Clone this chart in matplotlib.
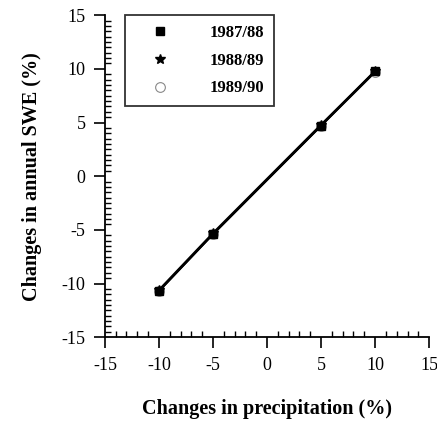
import matplotlib
matplotlib.use("Agg")
import matplotlib.pyplot as plt
from matplotlib.ticker import MultipleLocator

# ---- data ----
precip_change = [-10, -5, 5, 10]
swe_8788 = [-10.7, -5.4, 4.7, 9.8]
swe_8889 = [-10.6, -5.3, 4.8, 9.8]
swe_8990 = [-10.7, -5.4, 4.7, 9.7]
season_labels = ["1987/88", "1988/89", "1989/90"]

plt.rcParams['font.family'] = ['Liberation Serif', 'DejaVu Serif']
plt.rcParams['axes.unicode_minus'] = False

fig = plt.figure(figsize=(4.37, 4.21), dpi=100)
ax = fig.add_axes([0.240, 0.199, 0.742, 0.765])

# 1989/90 : open dotted circle (drawn first, underneath)
ax.plot(precip_change, swe_8990, '-', color='black', lw=1.5,
        marker='o', markersize=7, markerfacecolor='none',
        markeredgecolor='#888888', markeredgewidth=0.8,
        label=season_labels[2], zorder=2)
# 1988/89 : star-like marker
ax.plot(precip_change, swe_8889, '-', color='black', lw=1.5,
        marker='*', markersize=7, markerfacecolor='black',
        markeredgecolor='black', label=season_labels[1], zorder=3)
# 1987/88 : filled square
ax.plot(precip_change, swe_8788, '-', color='black', lw=1.5,
        marker='s', markersize=6, markerfacecolor='black',
        markeredgecolor='black', label=season_labels[0], zorder=4)

ax.set_xlim(-15, 15)
ax.set_ylim(-15, 15)

ax.spines['top'].set_visible(False)
ax.spines['right'].set_visible(False)
for s in ('left', 'bottom'):
    ax.spines[s].set_linewidth(1.3)

ax.xaxis.set_major_locator(MultipleLocator(5))
ax.xaxis.set_minor_locator(MultipleLocator(1))
ax.yaxis.set_major_locator(MultipleLocator(5))
ax.yaxis.set_minor_locator(MultipleLocator(0.5))

ax.tick_params(which='major', direction='out', length=8, width=1.2,
               labelsize=13, pad=6)
ax.tick_params(which='minor', direction='in', length=4, width=1.0)

ax.set_xlabel("Changes in precipitation (%)", fontsize=14.5,
              fontweight='bold', labelpad=18)
ax.set_ylabel("Changes in annual SWE (%)", fontsize=14.5,
              fontweight='bold', labelpad=14)

handles, labels = ax.get_legend_handles_labels()
order = [2, 1, 0]
leg = ax.legend([handles[i] for i in order], [labels[i] for i in order],
                loc='upper left', bbox_to_anchor=(0.062, 1.0),
                borderaxespad=0, frameon=True, fancybox=False,
                edgecolor='black', handlelength=3.0, handletextpad=1.45,
                borderpad=0.6, labelspacing=0.7,
                prop={'weight': 'bold', 'size': 12})
leg.get_frame().set_linewidth(1.3)
for h in leg.legend_handles:
    h.set_linestyle('none')

fig.savefig("out.png", dpi=100)
